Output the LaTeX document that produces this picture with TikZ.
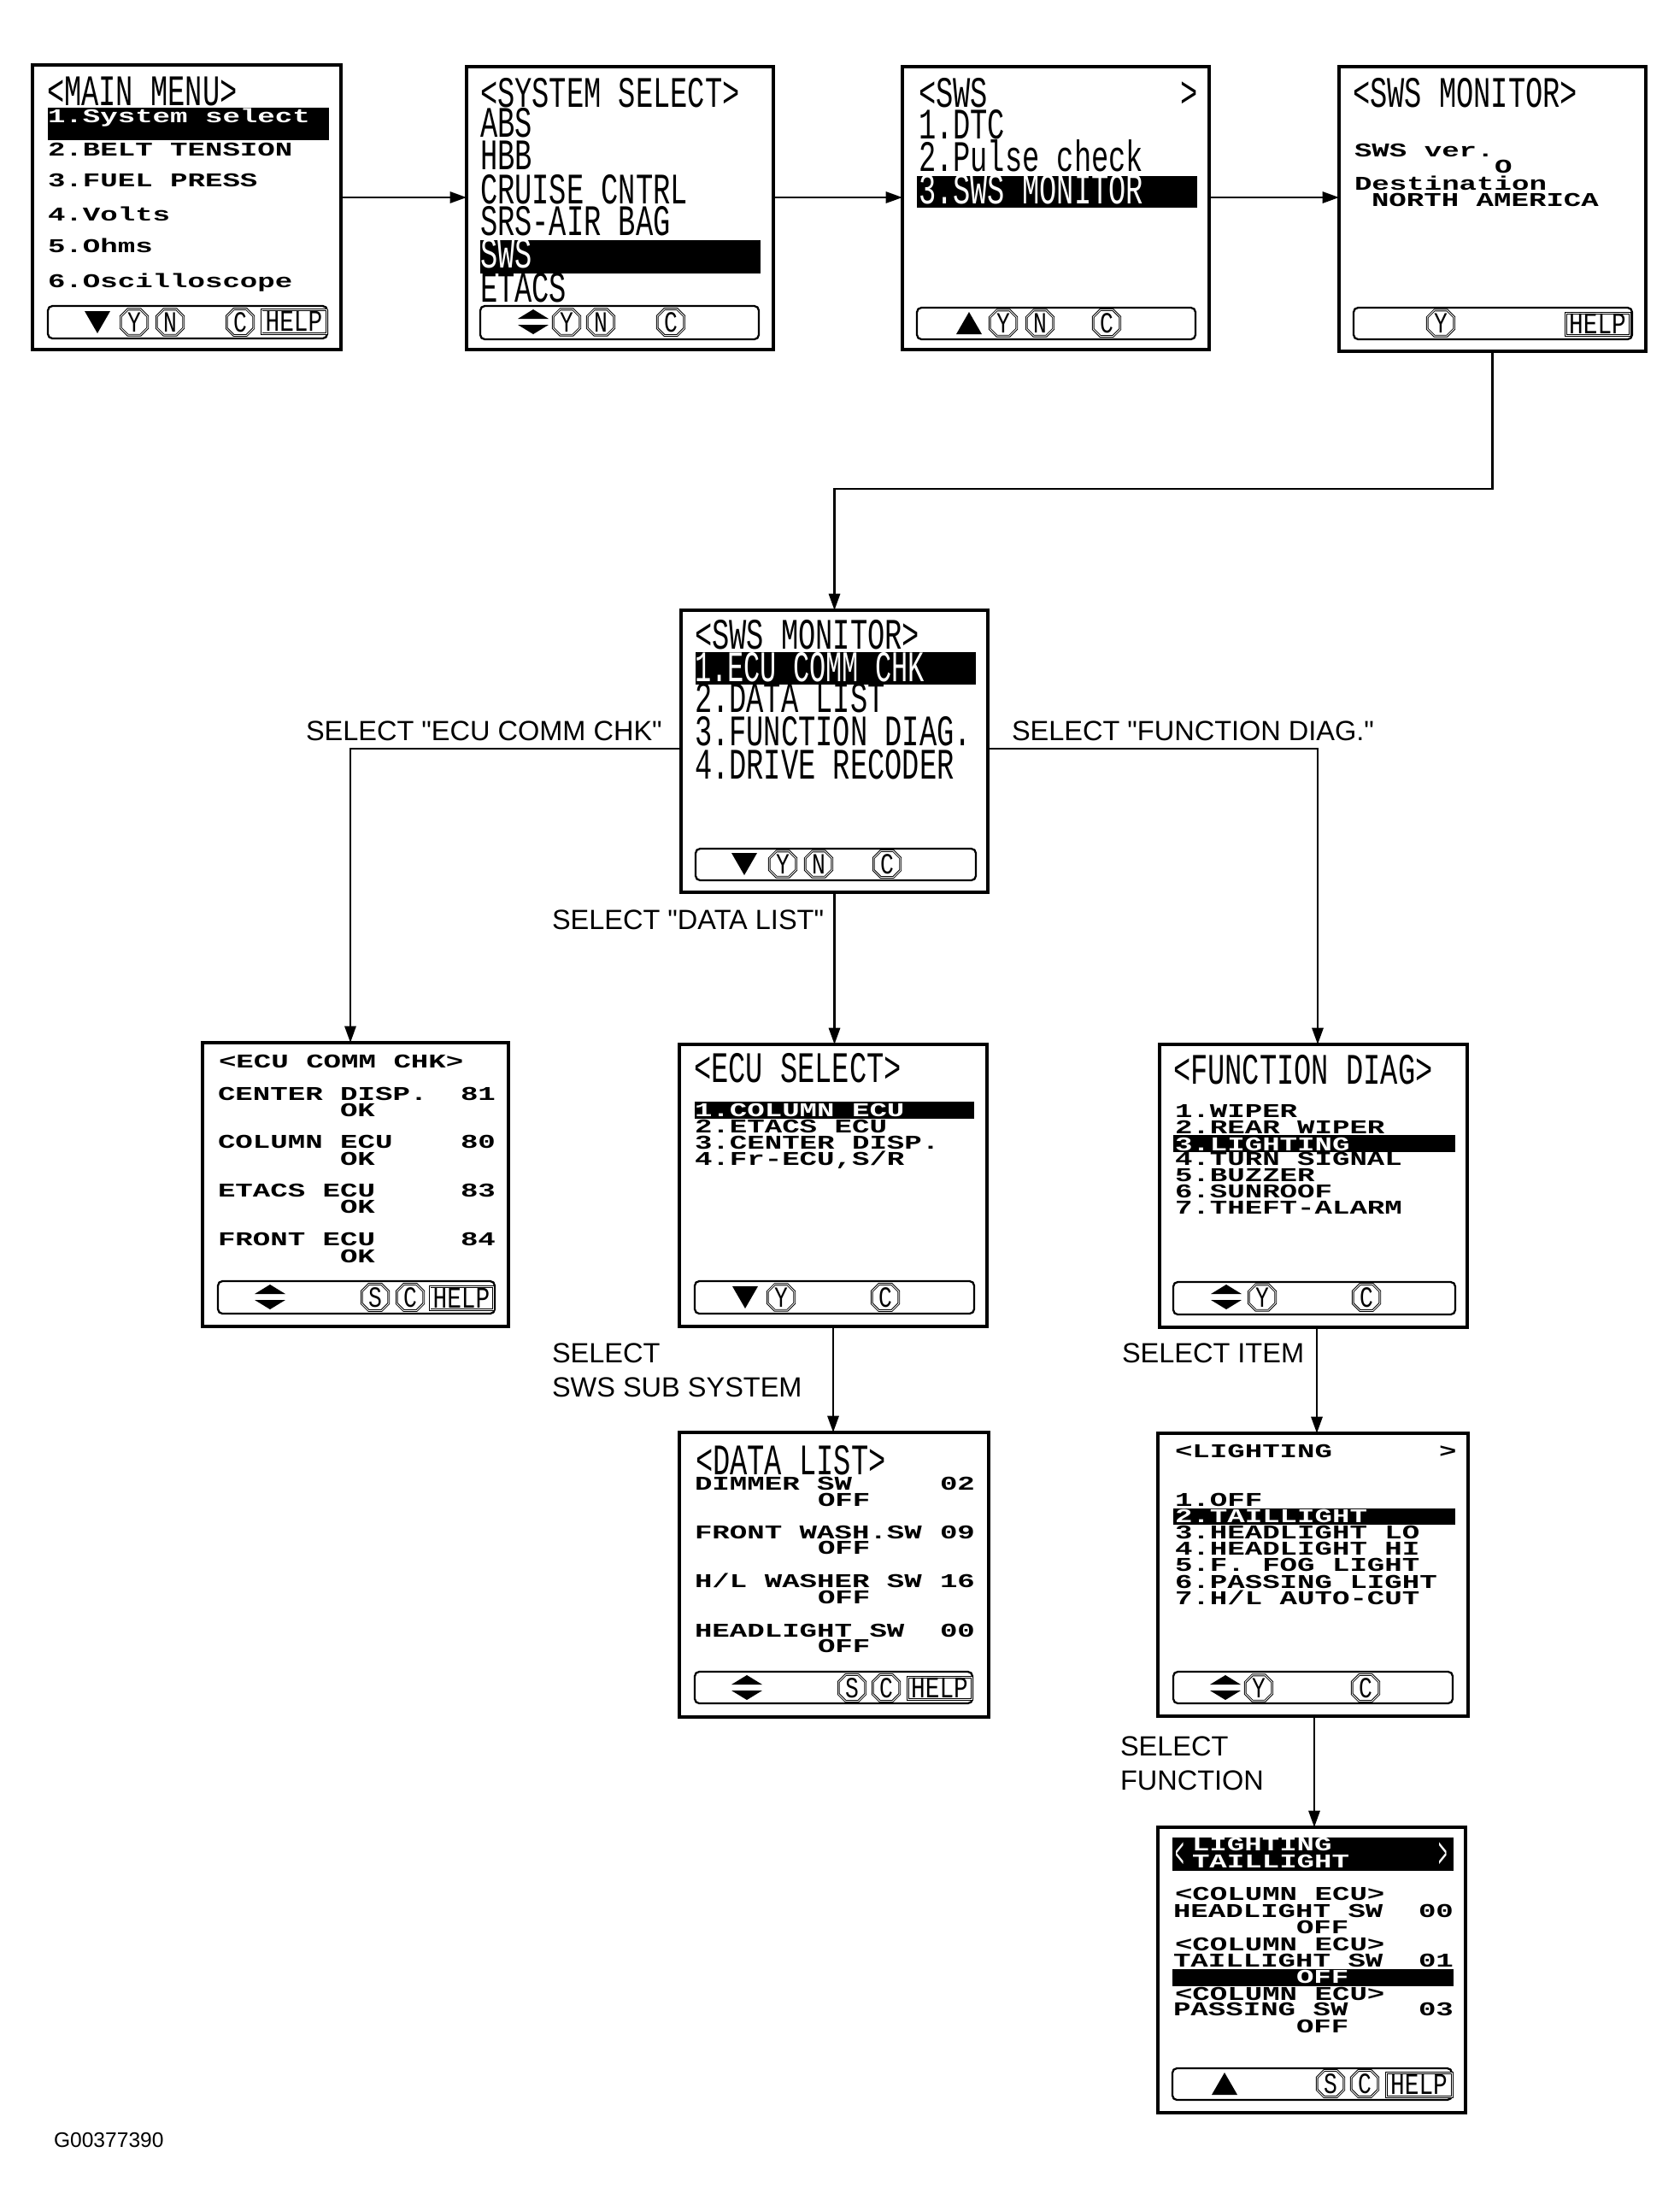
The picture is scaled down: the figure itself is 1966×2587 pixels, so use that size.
\documentclass[tikz,border=0pt]{standalone}
\usepackage{fontspec}
\usepackage{graphicx}
\usetikzlibrary{arrows.meta,shapes.misc}
\setmainfont{Liberation Sans}[Ligatures=TeXOff]
\newfontfamily\lcdfont{Liberation Mono}
\newcount\tc
\newcommand\wtx[4][black]{\global\advance\tc by 1
  \node[lcd,text=#1] (t\the\tc) at (#2,#3) {\scalebox{1.94}[1.30]{\lcdfont\bfseries #4}};}
\newcommand\ttx[4][black]{\global\advance\tc by 1
  \node[lcd,text=#1] (t\the\tc) at (#2,#3) {\scalebox{1.92}[2.90]{\lcdfont #4}};}
\newcommand\nrw[5][black]{\global\advance\tc by 1
  \node[lcd,text=#1] (t\the\tc) at (#2,#3) {\scalebox{#5}[2.90]{\lcdfont #4}};}
\newcommand\screen[5]{\node[screenbox,minimum width={(#4-#2)*0.02cm},minimum height={(#5-#3)*0.02cm}] (#1) at ({(#2+#4)/2},{(#3+#5)/2}) {};}
\newcommand\hlrow[4]{\global\advance\tc by 1
  \node[hlbar,minimum width={(#3-#1)*0.02cm},minimum height={(#4-#2)*0.02cm}] (b\the\tc) at ({(#1+#3)/2},{(#2+#4)/2}) {};}
\newcommand\softbar[4]{\global\advance\tc by 1
  \node[softkey,minimum width={(#3-#1)*0.02cm},minimum height={(#4-#2)*0.02cm}] (k\the\tc) at ({(#1+#3)/2},{(#2+#4)/2}) {};}
\newcommand\capkey[3]{\global\advance\tc by 1
  \node[keycap] (s\the\tc) at (#1,#2) {\scalebox{1.5}[1.95]{\lcdfont #3}};}
\newcommand\helpkey[4]{\global\advance\tc by 1
  \node[helpcap,minimum width={(#3-#1)*0.02cm},minimum height={(#4-#2)*0.02cm}] (h\the\tc) at ({(#1+#3)/2},{(#2+#4)/2}) {\scalebox{1.58}[2.0]{\lcdfont HELP}};}
\newcommand\dntri[2]{\fill (#1-15,#2-13) -- (#1+15,#2-13) -- (#1,#2+13) -- cycle;}
\newcommand\uptri[2]{\fill (#1-15,#2+13) -- (#1+15,#2+13) -- (#1,#2-13) -- cycle;}
\newcommand\updn[2]{\fill (#1-18,#2-4) -- (#1+18,#2-4) -- (#1,#2-15) -- cycle;
  \fill (#1-18,#2+3) -- (#1+18,#2+3) -- (#1,#2+14) -- cycle;}
\tikzset{
  screenbox/.style={draw,line width=2pt,fill=white,inner sep=0,outer sep=0},
  lcd/.style={inner sep=0,outer sep=0,anchor=base west},
  hlbar/.style={fill=black,inner sep=0,outer sep=0},
  softkey/.style={draw,line width=1.3pt,rounded corners=3pt,inner sep=0,outer sep=0},
  keycap/.style={chamfered rectangle,chamfered rectangle xsep=2.6pt,chamfered rectangle ysep=2.2pt,draw,line width=.55pt,double,double distance=.5pt,minimum width=18pt,minimum height=15.5pt,inner sep=0,fill=white},
  helpcap/.style={draw,line width=.6pt,double,double distance=.5pt,inner sep=0,fill=white},
  conn/.style={line width=1.4pt,-{Triangle[length=11pt,width=7.5pt]}},
  lbl/.style={inner sep=0,outer sep=0,anchor=base west,font=\fontsize{18.5pt}{20pt}\selectfont},
  code/.style={inner sep=0,outer sep=0,anchor=base west,font=\fontsize{14pt}{16pt}\selectfont}
}
\begin{document}
\begin{tikzpicture}[x=0.02cm,y=-0.02cm]
\useasboundingbox (0,0) rectangle (1966,2587);
\fill[white] (0,0) rectangle (1966,2587);

% ---- screens
\screen{main}{38}{76}{399}{409}
\screen{sys}{546}{78}{905}{409}
\screen{sws}{1056}{78}{1415}{409}
\screen{mon}{1567}{78}{1926}{411}
\screen{montwo}{797}{714}{1156}{1044}
\screen{ecu}{237}{1220}{595}{1552}
\screen{esel}{795}{1222}{1155}{1552}
\screen{fn}{1357}{1222}{1717}{1553}
\screen{data}{795}{1676}{1157}{2009}
\screen{light}{1355}{1677}{1718}{2008}
\screen{tail}{1355}{2138}{1715}{2472}

% ---- MAIN MENU
\ttx{55}{123}{<MAIN MENU>}
\hlrow{56}{126}{385}{164}
\wtx[white]{56}{143}{1.System select}
\wtx{56}{182}{2.BELT TENSION}
\wtx{56}{218}{3.FUEL PRESS}
\wtx{56}{258}{4.Volts}
\wtx{56}{295}{5.Ohms}
\wtx{56}{336}{6.Oscilloscope}
\softbar{56}{358}{383}{396}
\dntri{114}{377}
\capkey{157}{377}{Y}
\capkey{199}{377}{N}
\capkey{281}{377}{C}
\helpkey{306}{362}{382}{390}

% ---- SYSTEM SELECT
\ttx{562}{125}{<SYSTEM SELECT>}
\ttx{562}{160}{ABS}
\ttx{562}{198}{HBB}
\ttx{562}{238}{CRUISE CNTRL}
\ttx{562}{275}{SRS-AIR BAG}
\hlrow{562}{281}{890}{320}
\ttx[white]{562}{313}{SWS}
\ttx{562}{353}{ETACS}
\softbar{562}{358}{888}{397}
\updn{624}{377}
\capkey{663}{377}{Y}
\capkey{703}{377}{N}
\capkey{785}{377}{C}

% ---- SWS
\ttx{1075}{125}{<SWS}
\ttx{1381}{125}{>}
\ttx{1075}{162}{1.DTC}
\ttx{1075}{200}{2.Pulse check}
\hlrow{1073}{206}{1401}{243}
\ttx[white]{1075}{238}{3.SWS MONITOR}
\softbar{1073}{360}{1399}{397}
\uptri{1134}{378}
\capkey{1174}{378}{Y}
\capkey{1217}{378}{N}
\capkey{1295}{378}{C}

% ---- SWS MONITOR (version)
\ttx{1583}{125}{<SWS MONITOR>}
\wtx{1585}{183}{SWS ver.}
\wtx{1749}{202}{O}
\wtx{1585}{222}{Destination}
\wtx{1605}{241}{NORTH AMERICA}
\softbar{1584}{360}{1910}{397}
\capkey{1686}{378}{Y}
\helpkey{1832}{366}{1907}{392}

% ---- SWS MONITOR (menu)
\ttx{813}{759}{<SWS MONITOR>}
\hlrow{814}{763}{1142}{801}
\nrw[white]{813}{797}{1.ECU COMM CHK}{1.82}
\ttx{813}{833}{2.DATA LIST}
\ttx{813}{872}{3.FUNCTION DIAG.}
\ttx{813}{911}{4.DRIVE RECODER}
\softbar{814}{993}{1142}{1030}
\dntri{871}{1011}
\capkey{916}{1011}{Y}
\capkey{958}{1011}{N}
\capkey{1038}{1011}{C}

% ---- ECU COMM CHK
\wtx{256}{1249}{<ECU COMM CHK>}
\wtx{255}{1287}{CENTER DISP.}
\wtx{539}{1287}{81}
\wtx{398}{1306}{OK}
\wtx{255}{1343}{COLUMN ECU}
\wtx{539}{1343}{80}
\wtx{398}{1363}{OK}
\wtx{255}{1400}{ETACS ECU}
\wtx{539}{1400}{83}
\wtx{398}{1419}{OK}
\wtx{255}{1457}{FRONT ECU}
\wtx{539}{1457}{84}
\wtx{398}{1477}{OK}
\softbar{255}{1499}{579}{1537}
\updn{316}{1518}
\capkey{439}{1518}{S}
\capkey{480}{1518}{C}
\helpkey{503}{1505}{577}{1532}

% ---- ECU SELECT
\ttx{812}{1266}{<ECU SELECT>}
\hlrow{813}{1289}{1140}{1309}
\wtx[white]{813}{1306}{1.COLUMN ECU}
\wtx{813}{1325}{2.ETACS ECU}
\wtx{813}{1344}{3.CENTER DISP.}
\wtx{813}{1363}{4.Fr-ECU,S/R}
\softbar{813}{1499}{1140}{1537}
\dntri{872}{1518}
\capkey{914}{1518}{Y}
\capkey{1036}{1518}{C}

% ---- FUNCTION DIAG
\ttx{1373}{1268}{<FUNCTION DIAG>}
\wtx{1375}{1307}{1.WIPER}
\wtx{1375}{1326}{2.REAR WIPER}
\hlrow{1373}{1328}{1703}{1348}
\wtx[white]{1375}{1346}{3.LIGHTING}
\wtx{1375}{1363}{4.TURN SIGNAL}
\wtx{1375}{1382}{5.BUZZER}
\wtx{1375}{1401}{6.SUNROOF}
\wtx{1375}{1420}{7.THEFT-ALARM}
\softbar{1373}{1500}{1703}{1538}
\updn{1435}{1518}
\capkey{1477}{1518}{Y}
\capkey{1599}{1518}{C}

% ---- DATA LIST
\ttx{814}{1725}{<DATA LIST>}
\wtx{813}{1743}{DIMMER SW}
\wtx{1100}{1743}{02}
\wtx{957}{1762}{OFF}
\wtx{813}{1800}{FRONT WASH.SW}
\wtx{1100}{1800}{09}
\wtx{957}{1818}{OFF}
\wtx{813}{1857}{H/L WASHER SW}
\wtx{1100}{1857}{16}
\wtx{957}{1876}{OFF}
\wtx{813}{1915}{HEADLIGHT SW}
\wtx{1100}{1915}{00}
\wtx{957}{1933}{OFF}
\softbar{813}{1956}{1138}{1993}
\updn{874}{1975}
\capkey{997}{1975}{S}
\capkey{1037}{1975}{C}
\helpkey{1062}{1962}{1137}{1988}

% ---- LIGHTING
\wtx{1375}{1705}{<LIGHTING}
\wtx{1684}{1705}{>}
\wtx{1375}{1762}{1.OFF}
\hlrow{1373}{1765}{1703}{1784}
\wtx[white]{1375}{1781}{2.TAILLIGHT}
\wtx{1375}{1800}{3.HEADLIGHT LO}
\wtx{1375}{1819}{4.HEADLIGHT HI}
\wtx{1375}{1838}{5.F. FOG LIGHT}
\wtx{1375}{1858}{6.PASSING LIGHT}
\wtx{1375}{1877}{7.H/L AUTO-CUT}
\softbar{1373}{1956}{1700}{1993}
\updn{1434}{1975}
\capkey{1473}{1975}{Y}
\capkey{1598}{1975}{C}

% ---- LIGHTING / TAILLIGHT
\hlrow{1372}{2150}{1701}{2189}
\nrw[white]{1375}{2185}{<}{1.0}
\nrw[white]{1683}{2185}{>}{1.0}
\wtx[white]{1395}{2165}{LIGHTING}
\wtx[white]{1395}{2185}{TAILLIGHT}
\wtx{1375}{2223}{<COLUMN ECU>}
\wtx{1373}{2243}{HEADLIGHT SW}
\wtx{1660}{2243}{00}
\wtx{1517}{2262}{OFF}
\wtx{1375}{2282}{<COLUMN ECU>}
\wtx{1373}{2301}{TAILLIGHT SW}
\wtx{1660}{2301}{01}
\hlrow{1372}{2304}{1701}{2324}
\wtx[white]{1517}{2320}{OFF}
\wtx{1375}{2340}{<COLUMN ECU>}
\wtx{1373}{2358}{PASSING SW}
\wtx{1660}{2358}{03}
\wtx{1517}{2378}{OFF}
\softbar{1372}{2420}{1699}{2457}
\uptri{1433}{2438}
\capkey{1557}{2438}{S}
\capkey{1597}{2438}{C}
\helpkey{1622}{2425}{1699}{2453}

% ---- connectors
\coordinate (rowA) at (0,231);
\coordinate (bendA) at (1360,572);
\coordinate (rowB) at (0,876);
\coordinate (ecuX) at (410,0);
\coordinate (fnX) at (1542,0);
\coordinate (fnY) at (1541,0);
\coordinate (ltY) at (1538,0);
\draw[conn] (main.east |- rowA) -- (sys.west |- rowA);
\draw[conn] (sys.east |- rowA) -- (sws.west |- rowA);
\draw[conn] (sws.east |- rowA) -- (mon.west |- rowA);
\draw[conn] (mon.south) |- (bendA) -| (montwo.north);
\draw[conn] (montwo.west |- rowB) -| (ecuX |- ecu.north);
\draw[conn] (montwo.east |- rowB) -| (fnX |- fn.north);
\draw[conn] (montwo.south) -- (montwo.south |- esel.north);
\draw[conn] (esel.south) -- (esel.south |- data.north);
\draw[conn] (fnY |- fn.south) -- (fnY |- light.north);
\draw[conn] (ltY |- light.south) -- (ltY |- tail.north);

% ---- labels
\node[lbl] (la) at (358,866) {SELECT "ECU COMM CHK"};
\node[lbl] (lb) at (1184,866) {SELECT "FUNCTION DIAG."};
\node[lbl] (lc) at (646,1087) {SELECT "DATA LIST"};
\node[lbl] (ld) at (646,1594) {SELECT};
\node[lbl] (le) at (646,1634) {SWS SUB SYSTEM};
\node[lbl] (lf) at (1313,1594) {SELECT ITEM};
\node[lbl] (lg) at (1311,2054) {SELECT};
\node[lbl] (lh) at (1311,2094) {FUNCTION};
\node[code] (li) at (63,2512) {G00377390};
\end{tikzpicture}
\end{document}
